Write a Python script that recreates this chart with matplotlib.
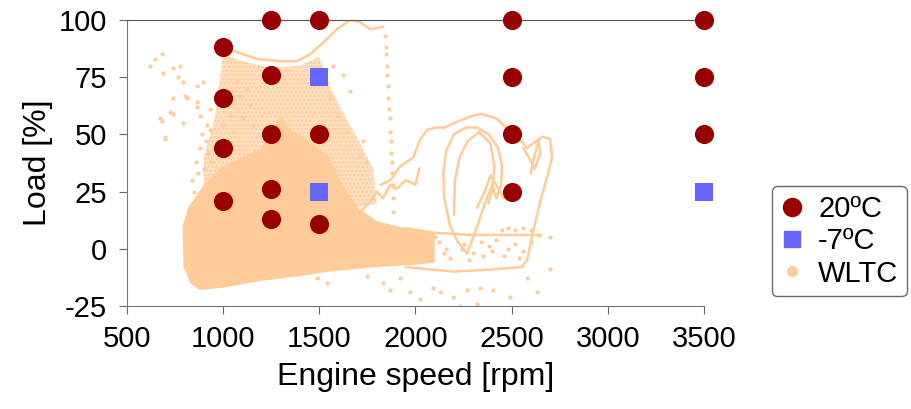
import matplotlib.pyplot as plt
from matplotlib.lines import Line2D

plt.rcParams['font.family'] = ['Liberation Sans', 'DejaVu Sans']
plt.rcParams['axes.unicode_minus'] = False
plt.rcParams['hatch.linewidth'] = 1.5

# test points at 20 C
rpm_20 = [1000, 1000, 1000, 1000, 1250, 1250, 1250, 1250, 1250, 1500, 1500, 1500,
          2500, 2500, 2500, 2500, 3500, 3500, 3500]
load_20 = [88, 66, 44, 21, 100, 76, 50, 26, 13, 100, 50, 11,
           100, 75, 50, 25, 100, 75, 50]

# test points at -7 C
rpm_m7 = [1500, 1500, 3500]
load_m7 = [75, 25, 25]

# WLTC operating area (hand-traced outlines and points)
dense_rpm = [790, 795, 830, 880, 1000, 1200, 1400, 1550, 1800, 2000, 2100, 2100,
             1950, 1800, 1700, 1620, 1550, 1450, 1350, 1300, 1250, 1200, 1100,
             1000, 900, 820]
dense_load = [10, -8, -15, -18, -17, -14, -12, -10, -8, -7, -6, 7,
              9, 12, 18, 28, 40, 47, 52, 58, 52, 44, 40,
              36, 28, 18]

medium_rpm = [900, 960, 1000, 1100, 1250, 1400, 1500, 1560, 1620, 1700, 1780,
              1800, 1700, 1550, 1300, 1000, 900]
medium_load = [40, 58, 85, 82, 79, 80, 84, 70, 60, 48, 35,
               20, 18, 30, 45, 32, 28]

top_rpm = [1000, 1072, 1176, 1296, 1384, 1452, 1519, 1592, 1660, 1712, 1764, 1831]
top_load = [88, 86, 83, 82, 82, 85, 90, 96, 100, 99, 96, 97]

loop_a_rpm = [1820, 1870, 1920, 1990, 2020, 2060, 2110, 2150, 2230, 2290, 2340, 2420,
              2460, 2500, 2550, 2580, 2610, 2660, 2700, 2710, 2690, 2650, 2610,
              2580, 2550]
loop_a_load = [28, 30, 36, 40, 47, 52, 53, 53, 56, 58, 59, 57,
               54, 50, 47, 44, 46, 49, 48, 40, 33, 21, 7, -5, -8]

loop_b_rpm = [2268, 2220, 2180, 2150, 2145, 2160, 2200, 2260, 2320, 2380, 2430,
              2450, 2445, 2420, 2400, 2370, 2330, 2300, 2268]
loop_b_load = [-2, 3, 10, 22, 33, 43, 50, 53, 53, 50, 44,
               36, 28, 22, 28, 22, 12, 5, -2]

loop_c_rpm = [2200, 2205, 2230, 2270, 2330, 2390, 2410, 2400, 2380]
loop_c_load = [15, 30, 40, 47, 51, 46, 36, 26, 20]

hook_rpm = [2500, 2460, 2420, 2390, 2360, 2320]
hook_load = [25, 22, 28, 32, 25, 18]

wiggle_rpm = [1650, 1700, 1760, 1800, 1830, 1870, 1900, 1950, 2000, 2020]
wiggle_load = [10, 15, 20, 25, 22, 28, 26, 30, 28, 35]

spike_rpm = [2560, 2590, 2620, 2650, 2640, 2610, 2600]
spike_load = [44, 40, 35, 42, 47, 38, 33]

band_top_rpm = [1950, 2100, 2300, 2500, 2650]
band_top_load = [9, 7, 6, 6, 6]
band_bot_rpm = [1950, 2200, 2400, 2560]
band_bot_load = [-8, -10, -9, -8]

dots_rpm = [620, 682, 646, 687, 739, 776, 765, 791, 864, 895, 739, 802, 724, 682,
            698, 791, 880, 916, 864, 932, 672, 698, 739, 812, 864,
            840, 860, 880, 900, 920, 850, 870, 890, 910, 940, 960, 930,
            1088, 1124, 1072, 1140, 1036, 1103, 1155, 1051, 999,
            1556, 1592, 1644, 1660, 1623, 1571, 1727, 1712, 1748,
            1842, 1845, 1848, 1851, 1854, 1857, 1860, 1863, 1866, 1869, 1872, 1875,
            1878, 1880, 1882, 1884, 1886,
            1488, 1540, 1748, 1831, 1868, 1920, 1972, 2091, 2128, 2195, 2232, 2268,
            2336, 2403, 2492, 2580, 2632, 2700, 2320, 2024,
            2450, 2480, 2520, 2560, 2600, 2640, 2700, 2050, 2150, 2250, 2350,
            2000, 2080, 2120, 2180, 2240, 2300, 2380, 2420, 2460, 2520, 2560, 2600,
            2020, 2100, 2160, 2280, 2340, 2400, 2480, 2540]
dots_load = [80, 85, 83, 77, 79, 80, 75, 73, 71, 73, 66, 67, 60, 56,
             48, 55, 58, 54, 64, 61, 57, 49, 59, 66, 62,
             30, 38, 44, 35, 42, 25, 33, 50, 47, 38, 30, 52,
             67, 70, 73, 63, 58, 57, 54, 51, 54,
             66, 58, 51, 69, 76, 80, 47, 41, 38,
             93, 88, 85, 80, 76, 71, 66, 61, 57, 51, 47, 42,
             38, 33, 28, 22, 16,
             -13, -15, -12, -15, -18, -13, -19, -17, -19, -21, -25, -18,
             -17, -18, -21, -13, -19, -9, -24, -22,
             8, 9, 8, 9, 8, 6, 5, 1, -2, 2, -3,
             4, -1, 3, -4, 0, -2, 1, 4, -3, 2, -1, 3,
             -4, 5, 0, -5, 3, -1, 0, -4]

dark_red = '#990000'
blue = '#6666ff'
peach = '#ffcc99'

fig = plt.figure(figsize=(9.12, 4.09), dpi=100)
ax = fig.add_axes([0.139, 0.252, 0.633, 0.699])

ax.fill(medium_rpm, medium_load, facecolor='#ffe2c6', edgecolor=peach,
        hatch='....', lw=0, zorder=1)
ax.fill(dense_rpm, dense_load, facecolor=peach, edgecolor=peach, lw=0, zorder=1)
for xs, ys in [(top_rpm, top_load), (loop_a_rpm, loop_a_load), (loop_b_rpm, loop_b_load),
               (loop_c_rpm, loop_c_load), (hook_rpm, hook_load),
               (wiggle_rpm, wiggle_load), (spike_rpm, spike_load),
               (band_top_rpm, band_top_load), (band_bot_rpm, band_bot_load)]:
    ax.plot(xs, ys, color=peach, lw=1.8, zorder=1)
ax.scatter(dots_rpm, dots_load, s=9, color=peach, lw=0, zorder=1)

ax.scatter(rpm_20, load_20, s=190, marker='o', color=dark_red, lw=0, zorder=3,
           clip_on=False)
ax.scatter(rpm_m7, load_m7, s=170, marker='s', color=blue, lw=0, zorder=3,
           clip_on=False)

ax.set_xlim(500, 3500)
ax.set_ylim(-25, 100)
ax.set_xticks([500, 1000, 1500, 2000, 2500, 3000, 3500])
ax.set_yticks([-25, 0, 25, 50, 75, 100])
ax.tick_params(labelsize=21, direction='out', length=6, color='#666666', pad=8)
ax.spines['right'].set_visible(False)
ax.spines['top'].set_color('#555555')
ax.spines['left'].set_color('#777777')
ax.spines['bottom'].set_color('#777777')
ax.set_xlabel('Engine speed [rpm]', fontsize=23, labelpad=6)
ax.set_ylabel('Load [%]', fontsize=23, labelpad=4)

handles = [
    Line2D([], [], ls='', marker='o', ms=13, color=dark_red),
    Line2D([], [], ls='', marker='s', ms=12, color=blue),
    Line2D([], [], ls='', marker='o', ms=7, color=peach),
]
leg = fig.legend(handles, ['20ºC', '-7ºC', 'WLTC'], loc='upper left',
                 bbox_to_anchor=(0.846, 0.545), fontsize=21, frameon=True,
                 fancybox=True, edgecolor='#444444', handlelength=0.8,
                 handletextpad=0.5, labelspacing=0.15, borderpad=0.3,
                 borderaxespad=0)
leg.get_frame().set_linewidth(1.0)

fig.savefig('out.png', dpi=100)
